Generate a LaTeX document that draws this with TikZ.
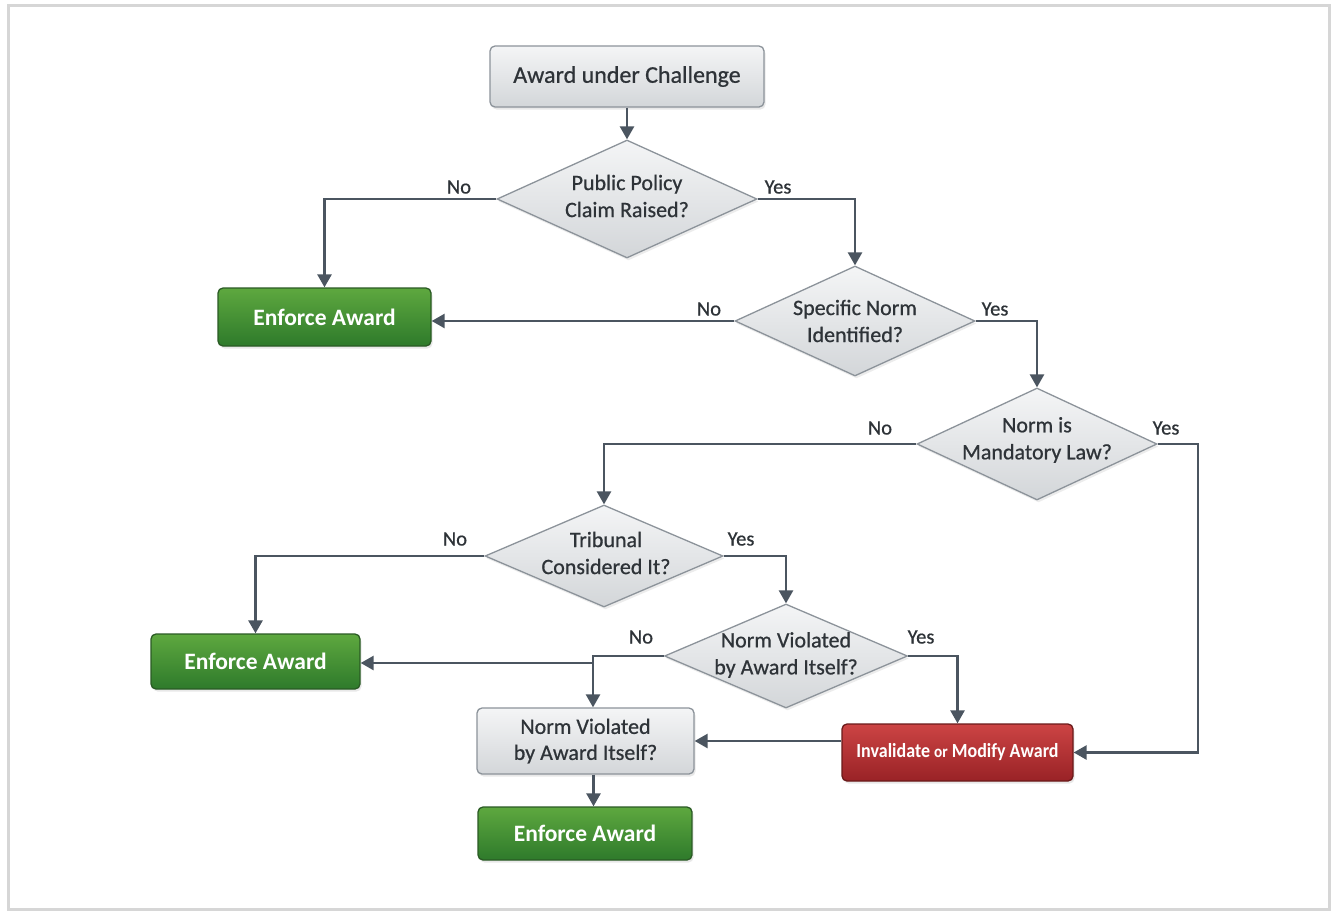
\documentclass[tikz,border=0pt]{standalone}
\usepackage{fontspec}
\setmainfont{Carlito}
\newfontfamily\medfont{Carlito}[FakeBold=0.7]
\usetikzlibrary{shapes.geometric,arrows.meta,shadows}
\definecolor{linec}{HTML}{4B5560}
\definecolor{txtc}{HTML}{2E3338}
\definecolor{grayborder}{HTML}{8C939A}
\definecolor{graytop}{HTML}{F4F5F6}
\definecolor{graybot}{HTML}{D3D6D9}
\definecolor{greentop}{HTML}{5EA83F}
\definecolor{greenbot}{HTML}{2E7A2B}
\definecolor{greenborder}{HTML}{2A5A24}
\definecolor{redtop}{HTML}{CC4444}
\definecolor{redbot}{HTML}{992226}
\definecolor{redborder}{HTML}{6A1A1A}
\tikzset{
  x=1pt, y=-1pt,
  boxbase/.style={rectangle, rounded corners=5pt, line width=1.3pt, inner sep=0pt,
    drop shadow={opacity=0.18, shadow xshift=1.5pt, shadow yshift=-2.5pt}},
  graybox/.style={boxbase, draw=grayborder, top color=graytop, bottom color=graybot,
    text=txtc, font=\medfont\fontsize{22}{26}\selectfont, align=center},
  greenbox/.style={boxbase, draw=greenborder, top color=greentop, bottom color=greenbot,
    text=white, font=\bfseries\fontsize{23.5}{26}\selectfont},
  redbox/.style={boxbase, draw=redborder, top color=redtop, bottom color=redbot,
    text=white, font=\bfseries\fontsize{20}{24}\selectfont},
  decision/.style={diamond, draw=grayborder, line width=1.3pt, inner sep=0pt,
    top color=graytop, bottom color=graybot,
    drop shadow={opacity=0.15, shadow xshift=1.5pt, shadow yshift=-2.5pt}},
  dtext/.style={text=txtc, font=\medfont\fontsize{22}{27}\selectfont, align=center, inner sep=0pt},
  conn/.style={draw=linec, line width=2.6pt},
  arr/.style={conn, -{Triangle[length=13pt, width=14pt]}},
  lbl/.style={text=txtc, font=\medfont\fontsize{20.5}{22}\selectfont, inner sep=0pt}
}
\begin{document}
\begin{tikzpicture}
\useasboundingbox (0,0) rectangle (1335,913);
\fill[white] (0,0) rectangle (1335,913);
\draw[draw=black!16, line width=3pt] (8,5) rectangle (1329,909);

% boxes
\node[graybox, minimum width=274pt, minimum height=61pt, font=\medfont\fontsize{24}{26}\selectfont] (top) at (627,76.5) {Award under Challenge};
\node[greenbox, minimum width=213pt, minimum height=58pt] (e1) at (324.5,317) {Enforce Award};
\node[greenbox, minimum width=209pt, minimum height=55pt] (e2) at (255.5,661.5) {Enforce Award};
\node[graybox, minimum width=217pt, minimum height=66pt] (nv) at (585.5,741) {Norm Violated\\by Award Itself?};
\node[redbox, minimum width=231pt, minimum height=57pt] (inv) at (957.5,752.5) {\scalebox{0.9}[1]{Invalidate {\fontsize{17}{20}\selectfont or} Modify Award}};
\node[greenbox, minimum width=214pt, minimum height=53pt] (e3) at (585,833.5) {Enforce Award};

% decisions
\node[decision, minimum width=260pt, minimum height=118pt] (d1) at (627,199) {};
\node[dtext] (d1t) at (627,196) {Public Policy\\Claim Raised?};
\node[decision, minimum width=240pt, minimum height=110pt] (d2) at (855,321) {};
\node[dtext] (d2t) at (855,321) {Specific Norm\\Identified?};
\node[decision, minimum width=240pt, minimum height=112pt] (d3) at (1037,444) {};
\node[dtext] (d3t) at (1037,440) {Norm is\\Mandatory Law?};
\node[decision, minimum width=238pt, minimum height=102pt] (d4) at (604,556) {};
\node[dtext] (d4t) at (606,553) {Tribunal\\Considered It?};
\node[decision, minimum width=243pt, minimum height=104pt] (d5) at (786,656) {};
\node[dtext] (d5t) at (786,655) {Norm Violated\\by Award Itself?};

% helper coordinates
\coordinate (c1) at (1198,444);
\coordinate (c2) at (593,656);
\coordinate (c3) at (593,663);

% connectors
\draw[arr] (top.south) -- (d1.north);
\draw[arr] (d1.west) -| (e1.north);
\draw[arr] (d1.east) -| (d2.north);
\draw[arr] (d2.west) -- (d2.west -| e1.east);
\draw[arr] (d2.east) -| (d3.north);
\draw[arr] (d3.west) -| (d4.north);
\draw[arr] (d3.east) -- (c1) |- (inv.east);
\draw[arr] (d4.west) -| (e2.north);
\draw[arr] (d4.east) -| (d5.north);
\draw[arr] (d5.west) -- (c2) -- (c2 |- nv.north);
\draw[arr] (c3) -- (c3 -| e2.east);
\draw[arr] (d5.east) -| (inv.north);
\draw[arr] (nv.east -| inv.west) -- (nv.east);
\draw[arr] ([xshift=8pt]nv.south) -- ([xshift=8pt]nv.south |- e3.north);

% labels
\node[lbl] (l1) at (459,187) {No};
\node[lbl] (l2) at (778,187) {Yes};
\node[lbl] (l3) at (709,309) {No};
\node[lbl] (l4) at (995,309) {Yes};
\node[lbl] (l5) at (880,428) {No};
\node[lbl] (l6) at (1166,428) {Yes};
\node[lbl] (l7) at (455,539) {No};
\node[lbl] (l8) at (741,539) {Yes};
\node[lbl] (l9) at (641,637) {No};
\node[lbl] (l10) at (921,637) {Yes};
\end{tikzpicture}
\end{document}
